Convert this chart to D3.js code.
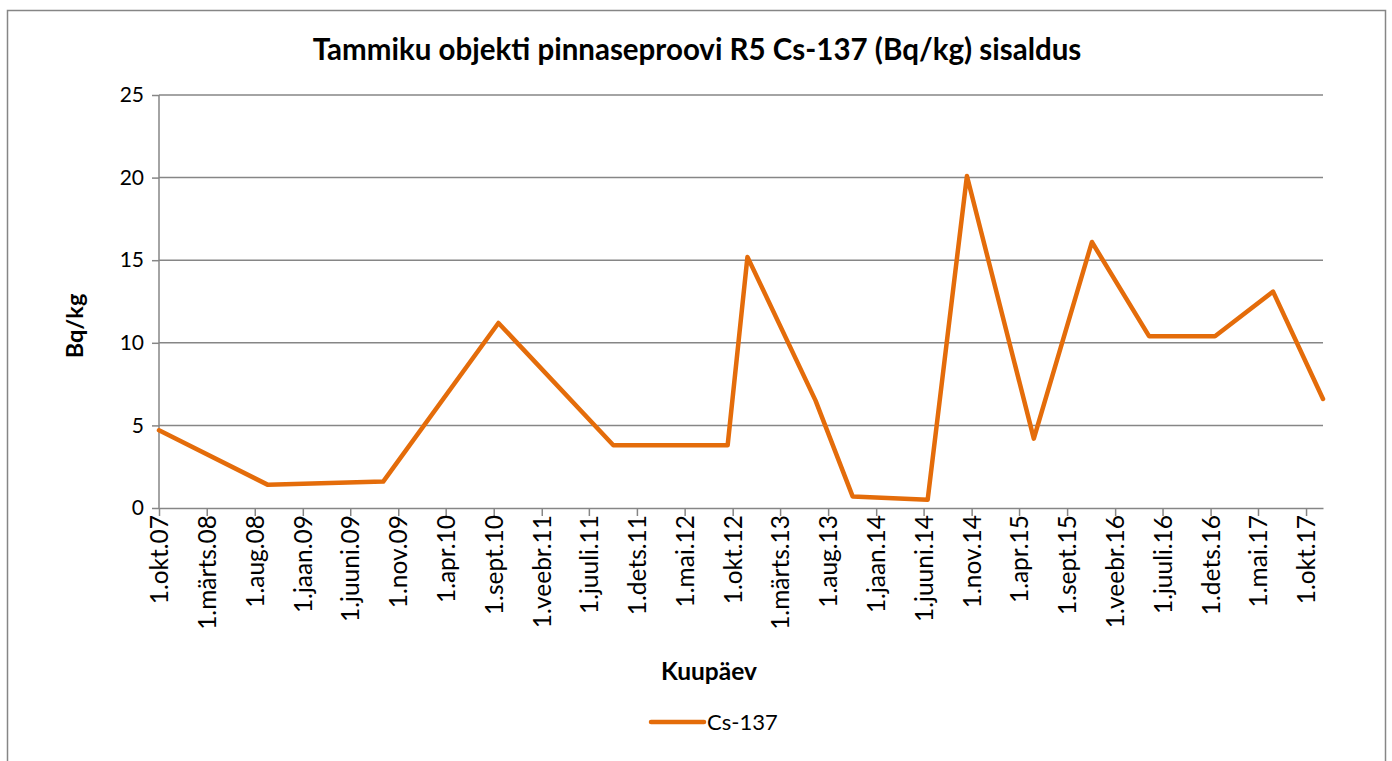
<!DOCTYPE html>
<html><head><meta charset="utf-8">
<script src="https://cdn.jsdelivr.net/npm/d3@7"></script>
<style>body{margin:0;background:#fff;}svg{display:block;font-family:Lato,"Open Sans",sans-serif;}</style>
</head><body><svg id="c" width="1392" height="761"></svg>
<script>
const dates = ["2007-10-01","2008-09-12","2009-09-14","2010-09-16","2011-09-17","2012-09-15","2012-11-17","2013-06-22","2013-10-18","2014-06-14","2014-10-17","2015-05-18","2015-11-19","2016-05-19","2016-12-15","2017-06-18","2017-11-24"];
const values = [4.7,1.4,1.6,11.2,3.8,3.8,15.2,6.5,0.7,0.5,20.1,4.2,16.1,10.4,10.4,13.1,6.6];
const tickLabels = ["1.okt.07","1.märts.08","1.aug.08","1.jaan.09","1.juuni.09","1.nov.09","1.apr.10","1.sept.10","1.veebr.11","1.juuli.11","1.dets.11","1.mai.12","1.okt.12","1.märts.13","1.aug.13","1.jaan.14","1.juuni.14","1.nov.14","1.apr.15","1.sept.15","1.veebr.16","1.juuli.16","1.dets.16","1.mai.17","1.okt.17"];
const yTicks = [0,5,10,15,20,25];
const seriesName = "Cs-137";
const title = "Tammiku objekti pinnaseproovi R5 Cs-137 (Bq/kg) sisaldus";

const parse = d3.timeParse("%Y-%m-%d");
const data = dates.map((d,i)=>({date:parse(d), v:values[i]}));
const svg = d3.select("#c");
const L=159,R=1323,T=95,B=508;
const grey="#868686", orange="#E46C0A";

svg.append("rect").attr("x",7.5).attr("y",10.5).attr("width",1378).attr("height",780)
  .attr("fill","#fff").attr("stroke",grey).attr("stroke-width",1.5);

const x = d3.scaleTime().domain([data[0].date, data[data.length-1].date]).range([L,R]);
const y = d3.scaleLinear().domain([0,25]).range([B,T]);
const tickDates = tickLabels.map((t,i)=>d3.timeMonth.offset(data[0].date, 5*i));

svg.append("g").selectAll("line").data(yTicks.filter(d=>d>0)).join("line")
  .attr("x1",L).attr("x2",R).attr("y1",d=>y(d)).attr("y2",d=>y(d))
  .attr("stroke",grey).attr("stroke-width",1.5);

const ya = svg.append("g").attr("transform",`translate(${L},0)`)
  .call(d3.axisLeft(y).tickValues(yTicks).tickSize(7).tickPadding(8));
ya.select(".domain").attr("stroke",grey).attr("stroke-width",1.5).attr("d",`M0,${B}V${T}`);
ya.selectAll(".tick line").attr("stroke",grey).attr("stroke-width",1.5);
ya.selectAll("text").attr("font-size",21).attr("fill","#000").attr("font-family","Lato, sans-serif");

const xa = svg.append("g").attr("transform",`translate(0,${B})`)
  .call(d3.axisBottom(x).tickValues(tickDates).tickFormat((d,i)=>tickLabels[i]).tickSize(8).tickSizeOuter(0));
xa.select(".domain").attr("stroke",grey).attr("stroke-width",1.5);
xa.selectAll(".tick line").attr("stroke",grey).attr("stroke-width",1.5);
xa.selectAll("text").attr("font-size",24.5).attr("fill","#000").attr("font-family","Lato, sans-serif")
  .attr("transform","rotate(-90)").attr("text-anchor","end").attr("x",0).attr("y",0)
  .attr("dx",-7).attr("dy","0.35em");

svg.append("path").datum(data)
  .attr("d", d3.line().x(d=>x(d.date)).y(d=>y(d.v)))
  .attr("fill","none").attr("stroke",orange).attr("stroke-width",4.5).attr("stroke-linejoin","round").attr("stroke-linecap","round");

svg.append("text").attr("x",697).attr("y",60).attr("text-anchor","middle")
  .attr("font-size",29.5).attr("font-weight","bold").text(title);
svg.append("text").attr("transform","translate(83,326) rotate(-90)").attr("text-anchor","middle")
  .attr("font-size",23.5).attr("font-weight","bold").text("Bq/kg");
svg.append("text").attr("x",709).attr("y",680).attr("text-anchor","middle")
  .attr("font-size",24.5).attr("font-weight","bold").text("Kuupäev");

svg.append("line").attr("x1",651).attr("x2",704).attr("y1",722).attr("y2",722)
  .attr("stroke",orange).attr("stroke-width",4.5).attr("stroke-linecap","round");
svg.append("text").attr("x",707).attr("y",730).attr("font-size",22).text(seriesName);
</script></body></html>
